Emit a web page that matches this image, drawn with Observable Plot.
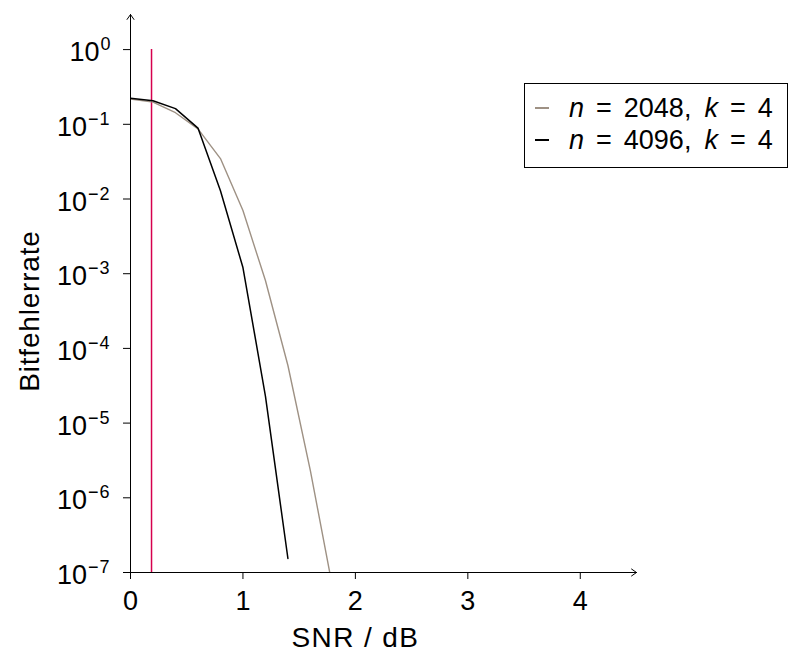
<!DOCTYPE html>
<html>
<head>
<meta charset="utf-8">
<script src="https://cdn.jsdelivr.net/npm/d3@7"></script>
<script src="https://cdn.jsdelivr.net/npm/@observablehq/plot@0.6"></script>
<style>
  html, body { margin: 0; padding: 0; background: #fff; }
  #wrap { position: relative; width: 812px; height: 655px; font-family: "Liberation Sans", sans-serif; }
  #legend { position: absolute; left: 524px; top: 83px; width: 262px; height: 83px; border: 1px solid #000; background: #fff; font-size: 27px; color: #000; }
  .row { position: absolute; left: 44px; height: 27px; line-height: 27px; white-space: nowrap; }
  .sw { position: absolute; left: 10px; width: 14px; height: 1.5px; }
  .eq { margin: 0 12px; }
  .cm { margin-right: 13px; }
</style>
</head>
<body>
<div id="wrap"></div>
<script>
const snr = [0, 0.2, 0.4, 0.6, 0.8, 1.0, 1.2, 1.4, 1.6, 1.8];
const ber2048 = [0.218, 0.198, 0.143, 0.087, 0.0348, 0.0070, 8.1e-4, 5.9e-5, 2.3e-6, 6e-8];
const snr4096 = [0, 0.2, 0.4, 0.6, 0.8, 1.0, 1.2, 1.4];
const ber4096 = [0.223, 0.207, 0.162, 0.089, 0.0129, 1.21e-3, 2.3e-5, 1.54e-7];
const limitSNR = [0.187];
const xTicks = [0, 1, 2, 3, 4];
const yTicks = [1, 1e-1, 1e-2, 1e-3, 1e-4, 1e-5, 1e-6, 1e-7];
const seriesN = ["2048", "4096"];
const seriesK = ["4", "4"];
const seriesColors = ["#9e9184", "#000000"];
const xLabel = "SNR / dB";
const yLabel = "Bitfehlerrate";

const d2048 = snr.map((x, i) => ({x, y: ber2048[i]}));
const d4096 = snr4096.map((x, i) => ({x, y: ber4096[i]}));

const yMin = 1e-7, yMax = Math.pow(10, 0.47), xMax = 4.5;

const chart = Plot.plot({
  width: 812,
  height: 655,
  marginLeft: 130,
  marginRight: 176,
  marginTop: 14,
  marginBottom: 83,
  style: {fontFamily: "Liberation Sans, sans-serif", fontSize: "27px", color: "#000", background: "#fff"},
  x: {domain: [0, xMax], ticks: xTicks, tickSize: 7, tickPadding: 11, label: null, tickFormat: d => String(d)},
  y: {type: "log", domain: [yMin, yMax], ticks: yTicks, tickSize: 7, tickPadding: 13, label: null,
      tickFormat: d => "10^" + Math.round(Math.log10(d))},
  marks: [
    Plot.ruleX(limitSNR, {x: d => d, y1: yMin, y2: 1, stroke: "#d6004e", strokeWidth: 1.5}),
    Plot.line(d2048, {x: "x", y: "y", stroke: seriesColors[0], strokeWidth: 1.4, clip: true}),
    Plot.line(d4096, {x: "x", y: "y", stroke: seriesColors[1], strokeWidth: 1.5, clip: true}),
    Plot.arrow([{x1: 0, y1: yMin, x2: xMax, y2: yMin}], {x1: "x1", y1: "y1", x2: "x2", y2: "y2", stroke: "#000", strokeWidth: 1, headLength: 9, headAngle: 70}),
    Plot.arrow([{x1: 0, y1: yMin, x2: 0, y2: yMax}], {x1: "x1", y1: "y1", x2: "x2", y2: "y2", stroke: "#000", strokeWidth: 1, headLength: 9, headAngle: 70}),
    Plot.text([xLabel], {x: [2], frameAnchor: "bottom", dy: 66, text: d => d, fontSize: 28, lineAnchor: "middle", textAnchor: "middle"}),
    Plot.text([yLabel], {y: [Math.pow(10, -3.5)], frameAnchor: "left", dx: -100, text: d => d, fontSize: 28, rotate: -90, textAnchor: "middle", lineAnchor: "middle"})
  ]
});

// letter spacing on axis titles
d3.select(chart).selectAll("text").each(function() {
  const t = d3.select(this);
  const s = t.text();
  if (s === xLabel) t.style("letter-spacing", "1.4px");
  if (s === yLabel) t.style("letter-spacing", "0.8px");
});

// superscript exponents on y tick labels
d3.select(chart).selectAll("text").each(function() {
  const t = d3.select(this);
  const s = t.text();
  if (!s.startsWith("10^")) return;
  const e = s.slice(3).replace("-", "\u2212");
  t.text(null);
  t.append("tspan").attr("dy", "3").text("10");
  t.append("tspan").attr("dy", "-11").attr("dx", "1").style("font-size", "18px").style("letter-spacing", e.length > 1 ? "1px" : "0px").text(e);
});

document.getElementById("wrap").appendChild(chart);

const legend = document.createElement("div");
legend.id = "legend";
const rowCenters = [24, 56];
seriesN.forEach((n, i) => {
  const sw = document.createElement("div");
  sw.className = "sw";
  sw.style.background = seriesColors[i];
  sw.style.top = (rowCenters[i] - 1) + "px";
  legend.appendChild(sw);
  const row = document.createElement("div");
  row.className = "row";
  row.style.top = (rowCenters[i] - 13) + "px";
  row.innerHTML = `<i>n</i><span class="eq">=</span>${n}<span class="cm">,</span><i>k</i><span class="eq">=</span>${seriesK[i]}`;
  legend.appendChild(row);
});
document.getElementById("wrap").appendChild(legend);
</script>
</body>
</html>
